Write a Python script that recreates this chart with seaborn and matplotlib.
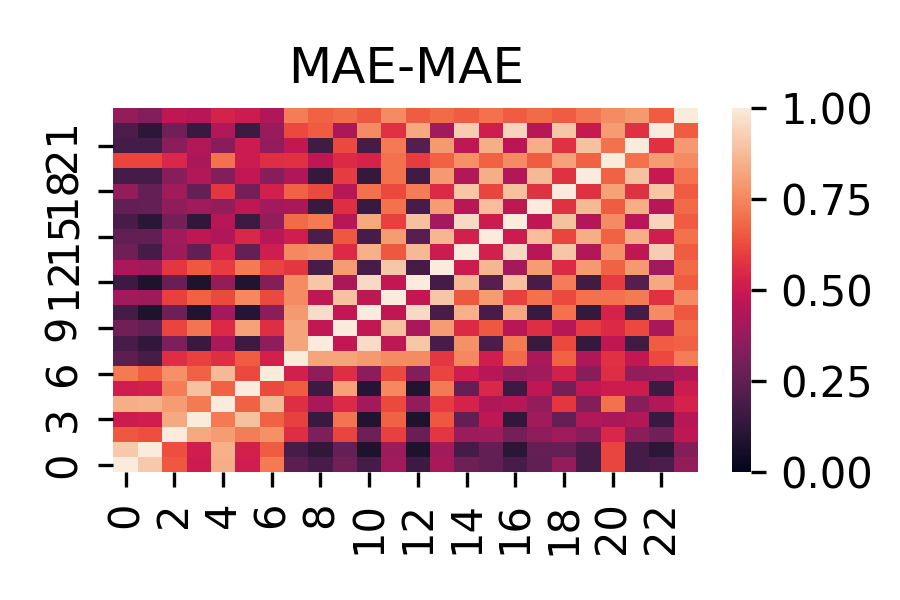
import seaborn as sns
import matplotlib
matplotlib.use("Agg")
import matplotlib.pyplot as plt
import pandas as pd

# 24 x 24 similarity matrix (row 0 drawn at the bottom)
labels = list(range(24))
mae_mae = [
    [1.00, 0.91, 0.65, 0.50, 0.84, 0.51, 0.72, 0.24, 0.19, 0.29, 0.18, 0.40, 0.16, 0.42, 0.28, 0.25, 0.19, 0.25, 0.37, 0.18, 0.61, 0.18, 0.20, 0.37],
    [0.91, 1.00, 0.63, 0.51, 0.85, 0.52, 0.66, 0.19, 0.13, 0.26, 0.08, 0.39, 0.08, 0.40, 0.18, 0.25, 0.11, 0.26, 0.26, 0.18, 0.61, 0.18, 0.12, 0.33],
    [0.65, 0.63, 1.00, 0.83, 0.80, 0.73, 0.77, 0.56, 0.32, 0.61, 0.28, 0.60, 0.27, 0.58, 0.39, 0.40, 0.30, 0.36, 0.40, 0.34, 0.54, 0.35, 0.29, 0.47],
    [0.50, 0.51, 0.83, 1.00, 0.72, 0.89, 0.67, 0.60, 0.15, 0.71, 0.09, 0.67, 0.08, 0.65, 0.25, 0.47, 0.13, 0.40, 0.26, 0.44, 0.42, 0.44, 0.15, 0.45],
    [0.84, 0.85, 0.80, 0.72, 1.00, 0.67, 0.87, 0.56, 0.42, 0.55, 0.41, 0.62, 0.37, 0.59, 0.53, 0.43, 0.45, 0.37, 0.58, 0.33, 0.70, 0.34, 0.44, 0.53],
    [0.51, 0.52, 0.73, 0.89, 0.67, 1.00, 0.62, 0.66, 0.16, 0.81, 0.10, 0.75, 0.09, 0.72, 0.26, 0.54, 0.16, 0.47, 0.30, 0.48, 0.50, 0.50, 0.16, 0.50],
    [0.72, 0.66, 0.77, 0.67, 0.87, 0.62, 1.00, 0.52, 0.36, 0.56, 0.35, 0.62, 0.33, 0.61, 0.51, 0.45, 0.37, 0.40, 0.52, 0.34, 0.56, 0.37, 0.38, 0.43],
    [0.24, 0.19, 0.56, 0.60, 0.56, 0.66, 0.52, 1.00, 0.82, 0.82, 0.79, 0.76, 0.76, 0.58, 0.75, 0.51, 0.69, 0.42, 0.67, 0.43, 0.57, 0.48, 0.62, 0.73],
    [0.19, 0.13, 0.32, 0.15, 0.42, 0.16, 0.36, 0.82, 1.00, 0.48, 0.96, 0.47, 0.90, 0.19, 0.77, 0.20, 0.72, 0.15, 0.62, 0.14, 0.47, 0.17, 0.66, 0.67],
    [0.29, 0.26, 0.61, 0.71, 0.55, 0.81, 0.56, 0.82, 0.48, 1.00, 0.48, 0.89, 0.42, 0.80, 0.55, 0.65, 0.45, 0.56, 0.45, 0.59, 0.55, 0.62, 0.42, 0.69],
    [0.18, 0.08, 0.28, 0.09, 0.41, 0.10, 0.35, 0.79, 0.96, 0.48, 1.00, 0.47, 0.95, 0.19, 0.85, 0.19, 0.83, 0.15, 0.70, 0.14, 0.53, 0.18, 0.76, 0.65],
    [0.40, 0.39, 0.60, 0.67, 0.62, 0.75, 0.62, 0.76, 0.47, 0.89, 0.47, 1.00, 0.48, 0.90, 0.65, 0.80, 0.60, 0.70, 0.62, 0.70, 0.70, 0.72, 0.57, 0.76],
    [0.16, 0.08, 0.27, 0.08, 0.37, 0.09, 0.33, 0.76, 0.90, 0.42, 0.95, 0.48, 1.00, 0.18, 0.87, 0.23, 0.89, 0.19, 0.73, 0.17, 0.59, 0.22, 0.83, 0.66],
    [0.42, 0.40, 0.58, 0.65, 0.59, 0.72, 0.61, 0.58, 0.19, 0.80, 0.19, 0.90, 0.18, 1.00, 0.50, 0.86, 0.41, 0.80, 0.55, 0.79, 0.67, 0.79, 0.40, 0.69],
    [0.28, 0.18, 0.39, 0.25, 0.53, 0.26, 0.51, 0.75, 0.77, 0.55, 0.85, 0.65, 0.87, 0.50, 1.00, 0.52, 0.95, 0.45, 0.90, 0.44, 0.77, 0.47, 0.92, 0.66],
    [0.25, 0.25, 0.40, 0.47, 0.43, 0.54, 0.45, 0.51, 0.20, 0.65, 0.19, 0.80, 0.23, 0.86, 0.52, 1.00, 0.50, 0.88, 0.61, 0.84, 0.67, 0.84, 0.51, 0.70],
    [0.19, 0.11, 0.30, 0.13, 0.45, 0.16, 0.37, 0.69, 0.72, 0.45, 0.83, 0.60, 0.89, 0.41, 0.95, 0.50, 1.00, 0.47, 0.89, 0.44, 0.76, 0.46, 0.94, 0.66],
    [0.25, 0.26, 0.36, 0.40, 0.37, 0.47, 0.40, 0.42, 0.15, 0.56, 0.15, 0.70, 0.19, 0.80, 0.45, 0.88, 0.47, 1.00, 0.57, 0.87, 0.66, 0.84, 0.45, 0.69],
    [0.37, 0.26, 0.40, 0.26, 0.58, 0.30, 0.52, 0.67, 0.62, 0.45, 0.70, 0.62, 0.73, 0.55, 0.90, 0.61, 0.89, 0.57, 1.00, 0.57, 0.81, 0.57, 0.90, 0.66],
    [0.18, 0.18, 0.34, 0.44, 0.33, 0.48, 0.34, 0.43, 0.14, 0.59, 0.14, 0.70, 0.17, 0.79, 0.44, 0.84, 0.44, 0.87, 0.57, 1.00, 0.67, 0.89, 0.49, 0.71],
    [0.61, 0.61, 0.54, 0.42, 0.70, 0.50, 0.56, 0.57, 0.47, 0.55, 0.53, 0.70, 0.59, 0.67, 0.77, 0.67, 0.76, 0.66, 0.81, 0.67, 1.00, 0.70, 0.80, 0.76],
    [0.18, 0.18, 0.35, 0.44, 0.34, 0.50, 0.37, 0.48, 0.17, 0.62, 0.18, 0.72, 0.22, 0.79, 0.47, 0.84, 0.46, 0.84, 0.57, 0.89, 0.70, 1.00, 0.57, 0.79],
    [0.20, 0.12, 0.29, 0.15, 0.44, 0.16, 0.38, 0.62, 0.66, 0.42, 0.76, 0.57, 0.83, 0.40, 0.92, 0.51, 0.94, 0.45, 0.90, 0.49, 0.80, 0.57, 1.00, 0.66],
    [0.37, 0.33, 0.47, 0.45, 0.53, 0.50, 0.43, 0.73, 0.67, 0.69, 0.65, 0.76, 0.66, 0.69, 0.66, 0.70, 0.66, 0.69, 0.66, 0.71, 0.76, 0.79, 0.66, 1.00],
]

df = pd.DataFrame(mae_mae, index=labels, columns=labels)

fig = plt.figure(figsize=(3, 2), dpi=300)
ax = fig.add_axes([0.1261, 0.2128, 0.6494, 0.6077])
cax = fig.add_axes([0.8137, 0.2128, 0.0211, 0.6077])

sns.heatmap(df, vmin=0, vmax=1, ax=ax, cbar_ax=cax, xticklabels=2, yticklabels=3)
ax.invert_yaxis()
plt.setp(ax.get_yticklabels(), rotation=90, va="center")
plt.setp(ax.get_xticklabels(), rotation=90)
ax.set_title("MAE-MAE")

fig.savefig("out.png", dpi=300)
